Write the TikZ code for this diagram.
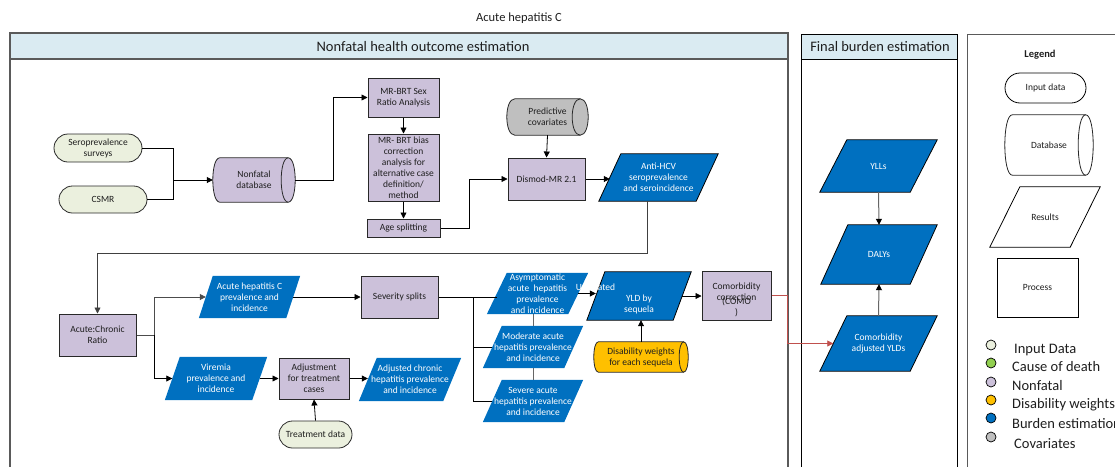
\documentclass[tikz,border=0pt]{standalone}
\usepackage{fontspec}
\setmainfont{Carlito}
\usetikzlibrary{shapes.misc,arrows.meta,calc,backgrounds}

\definecolor{inpc}{RGB}{235,240,222}
\definecolor{procc}{RGB}{204,193,218}
\definecolor{bluec}{RGB}{0,112,192}
\definecolor{grayc}{RGB}{191,191,191}
\definecolor{orc}{RGB}{255,192,0}
\definecolor{hdrc}{RGB}{218,235,242}
\definecolor{greenc}{RGB}{146,208,80}
\definecolor{redc}{RGB}{192,80,77}
\definecolor{linec}{RGB}{40,40,40}
\definecolor{txtc}{RGB}{30,30,30}
\definecolor{panelc}{RGB}{90,90,90}

% parallelogram behind a node: node name, slant, path style
\newcommand\paraback[3]{%
  \path[#3] ($(#1.north west)+(#2,0)$) -- (#1.north east)
    -- ($(#1.south east)+(-#2,0)$) -- (#1.south west) -- cycle;}
% horizontal cylinder behind a node: node name, end radius, path style
\newcommand\cylback[3]{%
  \path[#3] ($(#1.north west)+(#2,0)$) -- ($(#1.north east)+(-#2,0)$)
    .. controls ($(#1.north east)+(#2/3,0)$) and ($(#1.south east)+(#2/3,0)$) ..
    ($(#1.south east)+(-#2,0)$) -- ($(#1.south west)+(#2,0)$)
    .. controls ($(#1.south west)+(-#2/3,0)$) and ($(#1.north west)+(-#2/3,0)$) .. cycle;
  \path[#3, fill=none] ($(#1.north east)+(-#2,0)$)
    .. controls ($(#1.north east)+(-7*#2/3,0)$) and ($(#1.south east)+(-7*#2/3,0)$) ..
    ($(#1.south east)+(-#2,0)$);}

\begin{document}
\begin{tikzpicture}[x=1pt,y=-1pt,
  every node/.style={font=\fontsize{9.5}{11}\selectfont, align=center, inner sep=0pt, text=txtc},
  inp/.style={rounded rectangle, draw=linec, line width=0.8pt, fill=inpc},
  proc/.style={rectangle, draw=linec, line width=1pt, fill=procc},
  pbox/.style={rectangle},
  lab/.style={font=\fontsize{9.5}{11}\selectfont, align=center, inner sep=0pt, text=white},
  plab/.style={font=\fontsize{9.5}{11}\selectfont, align=center, inner sep=0pt, text=txtc},
  ptext/.style={label={[lab]center:#1}},
  pfill/.style={fill=bluec},
  pfillb/.style={fill=bluec, draw=black, line width=0.8pt},
  cylst/.style={fill=#1, draw=linec, line width=0.8pt},
  ln/.style={draw=black, line width=0.8pt},
  gln/.style={draw=black!60, line width=1pt},
  arr/.style={ln, -{Triangle[length=6pt,width=6pt]}},
  garr/.style={gln, -{Triangle[length=6pt,width=6pt,color=black]}},
  rarr/.style={draw=redc, line width=0.8pt, -{Triangle[length=6pt,width=6pt]}},
  panel/.style={draw=panelc, line width=1.2pt},
  head/.style={font=\fontsize{14.5}{16}\selectfont},
  dot/.style={circle, draw=black, line width=0.7pt, minimum size=10pt},
  ltext/.style={anchor=west, font=\fontsize{14.5}{16}\selectfont}
]
\useasboundingbox (0,0) rectangle (1115,466);

% title
\node[font=\fontsize{12.5}{14}\selectfont] (title) at (519,18) {Acute hepatitis C};

% panels
\draw[panel] (10,33) rectangle (788,490);
\draw[panel, fill=hdrc] (10,33) rectangle (788,59);
\node[head] (hnf) at (423,46.5) {Nonfatal health outcome estimation};
\draw[draw=black, line width=0.9pt] (801,34) rectangle (957,490);
\draw[draw=black, line width=0.9pt, fill=hdrc] (801,34) rectangle (957,59);
\node[head] (hfb) at (880,47) {Final burden estimation};
\draw[draw=panelc, line width=1pt] (967,34) rectangle (1130,490);

% inputs and database
\node[inp, minimum width=88pt, minimum height=28pt] (sero) at (98,148) {Seroprevalence\\surveys};
\node[inp, minimum width=88pt, minimum height=27pt] (csmr) at (103,199.5) {CSMR};
\node[pbox, minimum width=82pt, minimum height=44pt] (ndb) at (254,180) {Nonfatal\\database};

% MR-BRT chain
\node[proc, minimum width=71pt, minimum height=39pt] (sex) at (403.5,97.5) {MR-BRT Sex\\Ratio Analysis};
\node[proc, minimum width=71pt, minimum height=67pt] (bias) at (403.5,167.5) {MR- BRT bias\\correction\\analysis for\\alternative case\\definition/\\method};
\node[proc, minimum width=73pt, minimum height=18pt] (age) at (403.5,228) {Age splitting};
\node[pbox, minimum width=81pt, minimum height=36pt] (cov) at (547.5,117) {Predictive\\covariates};
\node[proc, minimum width=77pt, minimum height=42pt] (dismod) at (546.5,179) {Dismod-MR 2.1};
\node[pbox, minimum width=119pt, minimum height=47pt,
  ptext={Anti-HCV\\seroprevalence\\and seroincidence}] (anti) at (658.5,177.5) {};

% acute / chronic split
\node[proc, minimum width=77pt, minimum height=42pt] (acr) at (97.5,335) {Acute:Chronic\\Ratio};
\node[pbox, minimum width=101pt, minimum height=42pt,
  ptext={Acute hepatitis C\\prevalence and\\incidence}] (ahc) at (249.5,297) {};
\node[pbox, minimum width=102pt, minimum height=43pt,
  ptext={Viremia\\prevalence and\\incidence}] (vir) at (216,378.5) {};
\node[proc, minimum width=70pt, minimum height=41pt] (adj) at (314,378.5) {Adjustment\\for treatment\\cases};
\node[inp, minimum width=73pt, minimum height=27pt] (trt) at (315.5,434.5) {Treatment data};
\node[pbox, minimum width=102pt, minimum height=43pt,
  ptext={Adjusted chronic\\hepatitis prevalence\\and incidence}] (adjc) at (410,379.5) {};

% severity
\node[proc, minimum width=77pt, minimum height=42pt] (sev) at (399.5,297) {Severity splits};
\node[pbox, minimum width=101pt, minimum height=41pt,
  ptext={Asymptomatic\\acute\ \ hepatitis\\prevalence\\and incidence}] (asym) at (537.5,293.5) {};
\node[pbox, minimum width=100pt, minimum height=42pt,
  ptext={Moderate acute\\hepatitis prevalence\\and incidence}] (mod) at (533,347) {};
\node[pbox, minimum width=100pt, minimum height=42pt,
  ptext={Severe acute\\hepatitis prevalence\\and incidence}] (sevr) at (533,401) {};

% YLD and comorbidity
\node[pbox, minimum width=104pt, minimum height=48pt,
  label={[lab, yshift=-8pt]center:YLD by\\sequela}] (yld) at (639,296) {};
\node[pbox, minimum width=94pt, minimum height=30pt] (dw) at (641,357) {Disability weights\\for each sequela};
\node[proc, minimum width=69pt, minimum height=49pt,
  label={[plab, yshift=3.5pt]center:Comorbidity\\correction},
  label={[plab, yshift=-11.5pt]center:(COMO\\)}] (como) at (736.5,295.5) {};

% final burden
\node[pbox, minimum width=117pt, minimum height=52pt, ptext={YLLs}] (yll) at (878.5,166) {};
\node[pbox, minimum width=116pt, minimum height=59pt, ptext={DALYs}] (daly) at (879,254.5) {};
\node[pbox, minimum width=117pt, minimum height=55pt,
  ptext={Comorbidity\\adjusted YLDs}] (cay) at (878.5,343.5) {};

% legend
\node[font=\bfseries\fontsize{10.5}{12}\selectfont] (legt) at (1040,55) {Legend};
\node[rounded rectangle, draw=black, line width=0.8pt, fill=white, minimum width=81pt, minimum height=30pt] (lin) at (1045.5,88) {Input data};
\node[pbox, minimum width=88pt, minimum height=60pt] (ldb) at (1049,145) {Database};
\node[pbox, minimum width=110pt, minimum height=60pt, label={[plab]center:Results}] (lres) at (1045,217) {};
\node[rectangle, draw=black, line width=0.8pt, fill=white, minimum width=81pt, minimum height=59pt] (lproc) at (1037.5,287.5) {Process};

\node[dot, fill=inpc] (k1) at (991,345) {};
\node[dot, fill=greenc] (k2) at (991,363) {};
\node[dot, fill=procc] (k3) at (991,382) {};
\node[dot, fill=orc] (k4) at (991,400) {};
\node[dot, fill=bluec] (k5) at (991,418) {};
\node[dot, fill=grayc] (k6) at (991,437) {};
\node[ltext] (t1) at (1014,350) {Input Data};
\node[ltext] (t2) at (1012,367) {Cause of death};
\node[ltext] (t3) at (1012,386) {Nonfatal};
\node[ltext] (t4) at (1012,405) {Disability weights};
\node[ltext] (t5) at (1012,424) {Burden estimation};
\node[ltext] (t6) at (1014,444) {Covariates};

% shapes drawn behind the texts
\begin{scope}[on background layer]
  \cylback{ndb}{7}{cylst=procc}
  \cylback{cov}{8}{cylst=grayc}
  \cylback{dw}{4.5}{cylst=orc}
  \cylback{ldb}{7.5}{cylst=white}
  \paraback{anti}{22}{pfillb}
  \paraback{ahc}{14}{pfill}
  \paraback{vir}{15}{pfill}
  \paraback{adjc}{18}{pfill}
  \paraback{asym}{20}{pfill}
  \paraback{mod}{19}{pfill}
  \paraback{sevr}{19}{pfill}
  \paraback{yld}{18}{pfillb}
  \paraback{yll}{27}{pfillb}
  \paraback{daly}{27}{pfillb}
  \paraback{cay}{27}{pfillb}
  \paraback{lres}{30}{fill=white, draw=black, line width=0.8pt}
\end{scope}

% connectors: inputs to database
\coordinate (j1) at (173,180);
\draw[ln] (sero.east) -| (j1);
\draw[ln] (csmr.east) -| (j1);
\draw[arr] (j1) -- (ndb.west);
\draw[arr] (ndb.east) -- ++(38,0) |- (sex.west);
\draw[arr] (sex.south) -- (bias.north);
\draw[arr] (bias.south) -- (age.north);
\draw[arr] (age.east) -- ++(29,0) |- (dismod.west);
\draw[arr] (cov.south) -- (dismod.north);
\draw[arr] (dismod.east) -- ($(dismod.east -| anti.west)+(11,0)$);
\draw[arr, draw=black!75] ($(anti.south)+(-11,0)$) -- ++(0,52) -| (acr.north);

% acute / chronic branches
\coordinate (j2) at (154,335);
\draw[ln, draw=black!70] (acr.east) -- (j2);
\draw[arr, draw=black!70] (j2) |- ($(ahc.west)+(7,0)$);
\draw[arr] (j2) |- ($(vir.west)+(7.5,0)$);
\draw[arr] ($(ahc.east)+(-7,0)$) -- (ahc.east -| sev.west);
\draw[arr] ($(vir.east)+(-7.5,0)$) -- (vir.east -| adj.west);
\draw[arr] (adj.east) -- ($(adj.east -| adjc.west)+(9,0)$);
\draw[arr] (trt.north) -- (adj.south);

% severity branches
\coordinate (j3) at (473,297);
\draw[ln] (sev.east) -- ($(sev.east -| asym.west)+(10,0)$);
\draw[ln] (j3) |- ($(mod.west)+(9.5,0)$);
\draw[ln] (j3) |- ($(sevr.west)+(9.5,0)$);
\draw[gln] (mod.center |- asym.south) -- (mod.north);
\draw[gln] (mod.south) -- (mod.center |- sevr.north);
\draw[arr] ($(asym.east)+(-10,0)$) -- ($(asym.east -| yld.west)+(9,0)$);
\draw[arr] (dw.north) -- (dw.north |- yld.south);
\draw[arr] ($(yld.east)+(-9,0)$) -- (yld.east -| como.west);
\draw[rarr] (como.east) -- ++(15.5,0) |- ($(cay.west)+(13.5,0)$);

% final burden arrows
\draw[garr] (yll.center |- yll.south) -- (daly.center |- daly.north);
\draw[garr] (cay.center |- cay.north) -- (daly.center |- daly.south);

% label left over the results column
\node[lab] (untr) at (595.5,287) {Untreated};
\end{tikzpicture}
\end{document}
